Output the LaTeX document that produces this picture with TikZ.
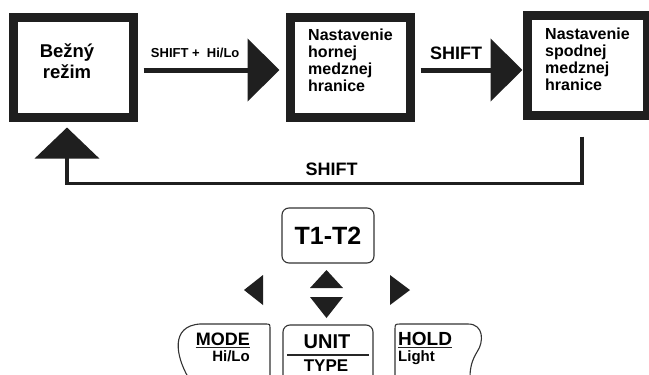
\documentclass[tikz,border=0pt]{standalone}
\usepackage{fontspec}
\setmainfont{Liberation Sans}
\usetikzlibrary{positioning, arrows.meta, calc}

\begin{document}
\begin{tikzpicture}[
    x=1pt, y=-1pt,
    every node/.style={font=\bfseries, inner sep=0pt},
    statebox/.style={
        rectangle,
        draw=black!88,
        line width=9pt,
        minimum width=120pt,
        minimum height=100pt
    },
    boxtext/.style={
        align=left,
        font=\bfseries\fontsize{16}{17}\selectfont
    },
    flow/.style={
        -{Triangle[length=32pt, width=62pt]},
        line width=5pt,
        draw=black!88
    },
    backflow/.style={
        -{Triangle[length=31pt, width=64pt]},
        line width=3.5pt,
        draw=black!88
    },
    keyframe/.style={
        line width=1.1pt,
        draw=black!80
    },
    keyline/.style={
        line width=1.5pt,
        draw=black!85
    }
]
\useasboundingbox (0,0) rectangle (649,375);

% Stavy
\node[statebox] (bezny) at (73,67) {};
\node[statebox] (horna) at (350,67) {};
\node[statebox] (spodna) at (587,65) {};

\node[align=center, font=\bfseries\fontsize{18.5}{21}\selectfont] (beznytext) at (67,61) {Bežný\\režim};
\node[boxtext, anchor=west] (hornatext) at (308,60) {Nastavenie\\hornej\\medznej\\hranice};
\node[boxtext, anchor=west] (spodnatext) at (545,59) {Nastavenie\\spodnej\\medznej\\hranice};

% Prechody
\draw[flow] ($(bezny.east)+(6,3)$) -- ($(horna.west)+(-6,3)$)
    node[pos=0.38, yshift=17pt, font=\bfseries\fontsize{13}{15}\selectfont] {SHIFT +\ \ Hi/Lo};
\draw[flow] ($(horna.east)+(6,3)$) -- ($(spodna.west)+(0,5)$)
    node[pos=0.35, yshift=17pt, font=\bfseries\fontsize{18}{20}\selectfont] {SHIFT};
\draw[backflow] ($(spodna.south)+(-5,17)$) |- ($(bezny.south)+(-6,62)$)
    node[pos=0.743, yshift=14pt, font=\bfseries\fontsize{18}{20}\selectfont] {SHIFT}
    -- ($(bezny.south)+(-6,6)$);

% Klavesnica
\node[keyframe, draw, rounded corners=7pt, minimum width=92pt, minimum height=55pt,
    font=\bfseries\fontsize{25}{27}\selectfont] (t1t2) at (328,235.5) {T1-T2};

\fill[black!88] (310,288) -- (326.5,270) -- (343,288) -- cycle;
\fill[black!88] (310,297) -- (343,297) -- (326.5,318) -- cycle;
\fill[black!88] (263,275) -- (244,290) -- (263,305) -- cycle;
\fill[black!88] (390,275) -- (410,290) -- (390,305) -- cycle;

% MODE
\draw[keyframe] (188,377) .. controls (176,356) and (170,326) .. (200,324)
    -- (265,324) .. controls (270,324) .. (270,329) -- (270,377);
\node[anchor=base east, font=\bfseries\fontsize{18}{20}\selectfont] (mode) at (250,345) {MODE};
\node[anchor=base east, font=\bfseries\fontsize{15}{17}\selectfont] (hilo) at (250,361) {Hi/Lo};
\draw[keyline] ($(mode.base west)+(0,2.5)$) -- ($(mode.base east)+(0,2.5)$);

% UNIT
\draw[keyframe, rounded corners=7pt] (283,377) -- (283,325) -- (373,325) -- (373,377);
\node[anchor=base, font=\bfseries\fontsize{20}{22}\selectfont] (unit) at (327,348) {UNIT};
\node[anchor=base, font=\bfseries\fontsize{17}{19}\selectfont] (type) at (326,371) {TYPE};
\draw[keyline] (287,355) -- (369,355);

% HOLD
\draw[keyframe] (395,377) -- (395,330) .. controls (395,324) .. (401,324)
    -- (468,324) .. controls (484,324) and (484,342) .. (477,352)
    .. controls (472,360) and (470,368) .. (470,377);
\node[anchor=base west, font=\bfseries\fontsize{19}{21}\selectfont] (hold) at (398,345) {HOLD};
\node[anchor=base west, font=\bfseries\fontsize{15}{17}\selectfont] (light) at (398,361) {Light};
\draw[keyline] ($(hold.base west)+(0,2.5)$) -- ($(hold.base east)+(0,2.5)$);

\end{tikzpicture}
\end{document}
